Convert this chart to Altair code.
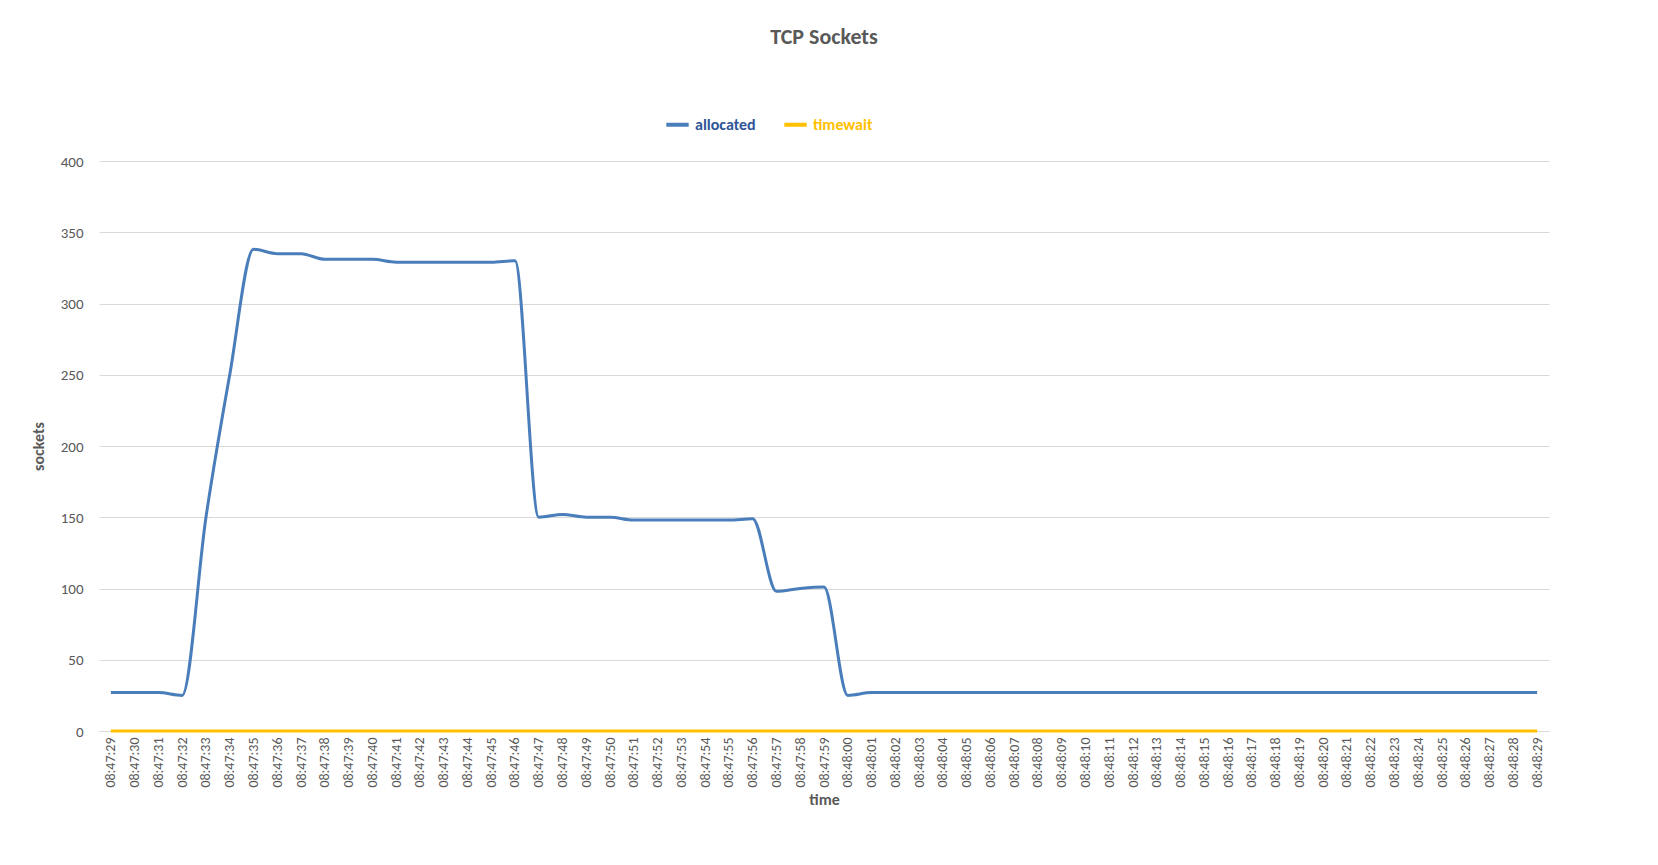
import pandas as pd
import altair as alt

times = ["08:47:%02d" % s for s in range(29, 60)] + ["08:48:%02d" % s for s in range(0, 30)]
allocated = [27, 27, 27, 25, 150, 250, 338, 335, 335, 331, 331, 331, 329, 329, 329, 329, 329,
             330, 150, 152, 150, 150, 148, 148, 148, 148, 148, 149, 98, 100, 101, 25] + [27] * 29
timewait = [0] * 61

df = pd.concat([
    pd.DataFrame({"time": times, "sockets": allocated, "series": "allocated"}),
    pd.DataFrame({"time": times, "sockets": timewait, "series": "timewait"}),
])

chart = alt.Chart(df).mark_line(interpolate="monotone", strokeWidth=3).encode(
    x=alt.X("time:O", sort=times, title="time", scale=alt.Scale(type="point", padding=0.5),
            axis=alt.Axis(labelAngle=-90, labelFontSize=14, labelColor="#595959",
                          titleFontSize=16, titleColor="#595959", domainColor="#d9d9d9",
                          ticks=False, labelPadding=6, grid=False)),
    y=alt.Y("sockets:Q", title="sockets", scale=alt.Scale(domain=[0, 400]),
            axis=alt.Axis(values=list(range(0, 401, 50)), labelFontSize=15, labelColor="#595959",
                          titleFontSize=16, titleColor="#595959", gridColor="#d9d9d9",
                          domain=False, ticks=False, labelPadding=16, titlePadding=14)),
    color=alt.Color("series:N", sort=["allocated", "timewait"],
                    scale=alt.Scale(domain=["allocated", "timewait"], range=["#4a7ebb", "#ffc000"]),
                    legend=alt.Legend(orient="none", legendX=565, legendY=-50, title=None,
                                      direction="horizontal",
                                      symbolType="stroke", symbolStrokeWidth=4, symbolSize=500,
                                      labelFontSize=16, labelFontWeight="bold", columnPadding=20,
                                      labelColor={"expr": "datum.label == 'allocated' ? '#2f5597' : '#ffc000'"})),
).properties(
    width=1450, height=570,
    padding={"left": 22, "right": 10, "top": 18, "bottom": 10},
    title=alt.Title("TCP Sockets", fontSize=22, fontWeight="bold", color="#595959", offset=62),
).configure(font="Calibri, Liberation Sans, sans-serif").configure_view(stroke=None)

chart.save("out.html", embed_options={"renderer": "svg", "actions": False})
